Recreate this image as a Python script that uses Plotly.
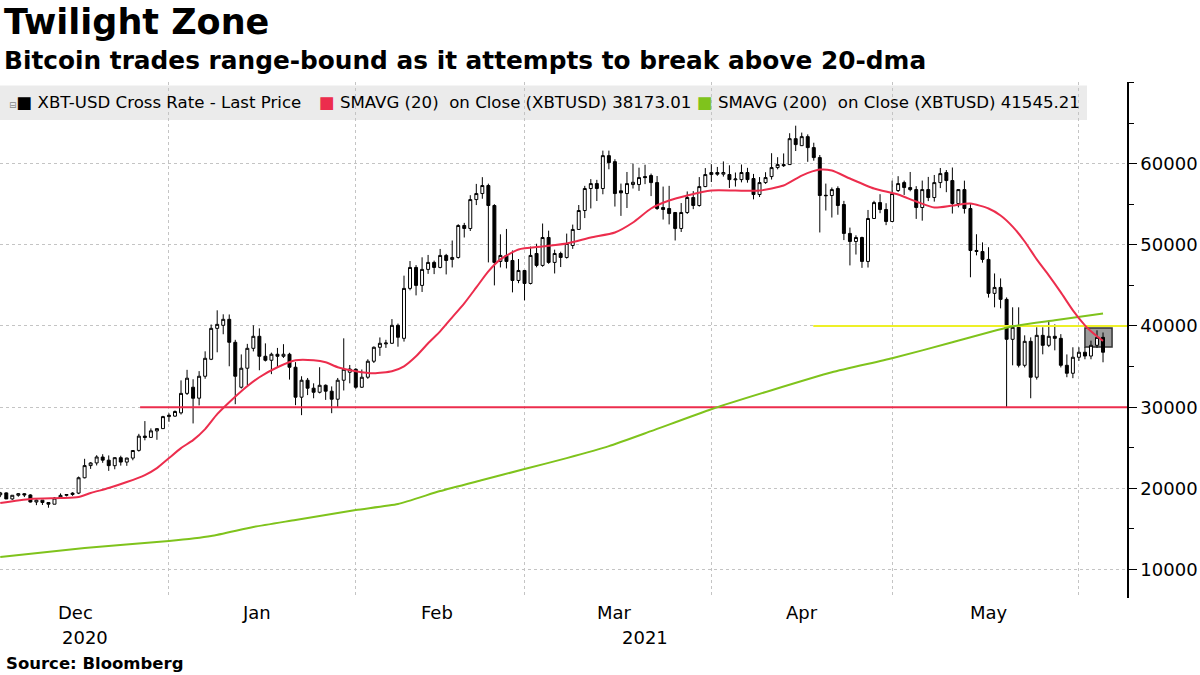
import pandas as pd
import plotly.graph_objects as go

# daily candles, 2020-12-03 .. 2021-06-04
dates = pd.date_range("2020-12-03", "2021-06-04", freq="D")

open_px = [
    # Dec (3..31)
    19205, 19446, 18699, 19155, 19343, 19192, 18321, 18553, 18263, 18051, 18807, 19144, 19246, 19418, 21308,
    22806, 23132, 23861, 23475, 22795, 23781, 23240, 23733, 24678, 26439, 26280, 27081, 27361, 28841,
    # Jan
    28900, 29300, 31700, 32460, 31110, 33810, 35900, 39710, 40080, 40820, 37990, 32460, 34800, 37250, 38730,
    36270, 35780, 36520, 36270, 36520, 34920, 31230, 33320, 32340, 31840, 32700, 31970, 30980, 33320, 34300, 34670,
    # Feb
    32460, 33690, 35660, 37380, 37800, 37870, 40080, 38480, 44630, 47210, 45000, 46970, 47830, 47210, 48690,
    48200, 48440, 52380, 52010, 55570, 56310, 57300, 54840, 47950, 48690, 48070, 45610, 46840,
    # Mar
    45240, 48930, 47460, 50900, 47830, 48930, 48440, 49910, 51890, 54220, 56930, 57540, 56930, 60980, 60240,
    56650, 56310, 57420, 57420, 58400, 58530, 57660, 54590, 54470, 53980, 52010, 53980, 55820, 54840, 57170, 58650,
    # Apr
    58900, 58700, 58650, 58000, 58030, 58900, 58160, 56190, 57660, 58400, 59510, 59880, 59880, 63070, 62210,
    63320, 61970, 60740, 56100, 56070, 56930, 54960, 51400, 50410, 50900, 47950, 53240, 55200, 54350, 52870,
    # May
    56680, 57660, 57050, 56800, 54590, 56800, 55820, 57660, 58890, 57910, 55080, 56800, 54470, 49300, 49180,
    48200, 44020, 44750, 43280, 38360, 39840, 35160, 38110, 33690, 38850, 37620, 38730, 38480, 35160, 34180, 36150,
    # Jun
    36770, 36300, 37620, 38600,
]
high_px = [
    19566, 19511, 19160, 19408, 19411, 19283, 18626, 18553, 18268, 18919, 19381, 19305, 19525, 21458, 23642,
    23238, 24085, 24209, 24059, 23811, 24024, 23768, 24711, 26718, 28288, 27389, 27370, 28937, 29244,
    29600, 33300, 34600, 33440, 34440, 36880, 40180, 41930, 41440, 41420, 38300, 36500, 37800, 40080, 39710,
    37860, 36720, 37300, 37760, 36700, 35550, 33810, 33600, 32940, 34920, 32800, 32560, 33600, 38480, 35200, 34800,
    34640, 35900, 37480, 38590, 38300, 40850, 40300, 46200, 48000, 47500, 48460, 48750, 48050, 49490, 48880,
    50530, 52530, 52700, 56110, 57500, 58330, 57530, 55000, 51290, 51950, 49300, 48250, 46900,
    49780, 50130, 52620, 51740, 49400, 49150, 51380, 52490, 54900, 57260, 58090, 58000, 61600, 61600, 60540,
    57540, 58970, 60000, 59500, 59860, 58770, 58470, 57170, 57260, 54000, 55140, 56570, 56610, 58340, 59450, 59930,
    59590, 60270, 59790, 58900, 59890, 59480, 58730, 58340, 58940, 61280, 60790, 61250, 63740, 64670, 63820,
    63600, 62570, 61060, 57540, 57060, 57200, 55410, 52120, 51170, 51000, 54290, 55420, 56230, 55120, 57900,
    58450, 57900, 58970, 57220, 57910, 58360, 58600, 59460, 59210, 59520, 56870, 57900, 55000, 51300, 50300,
    49700, 46470, 45860, 43520, 42300, 42300, 38850, 38600, 39840, 39840, 40700, 40200, 39000, 36500, 37380, 37380,
    37400, 38200, 39470, 39200,
]
low_px = [
    18925, 18697, 18590, 18976, 18931, 18269, 17935, 17957, 17619, 18046, 18734, 19012, 19079, 19298, 21234,
    22400, 22826, 23147, 22159, 22353, 22802, 22777, 23463, 24522, 25922, 26207, 25987, 27361, 28201,
    28800, 29100, 31500, 28000, 30220, 33500, 35800, 36760, 38980, 35040, 30370, 32300, 32700, 36870, 34550,
    35630, 34070, 34880, 36070, 33400, 30250, 29020, 31490, 31100, 31700, 30900, 29260, 30020, 32060, 32940, 32270,
    32380, 33490, 35440, 36320, 37300, 37800, 37450, 38080, 44400, 43770, 44190, 46420, 46390, 47100, 46350,
    47210, 48300, 50900, 51700, 54890, 55670, 47830, 45000, 47210, 47090, 44140, 45270, 43160,
    45120, 47230, 47300, 47660, 46470, 47260, 48300, 49500, 51870, 53290, 54480, 55390, 56220, 59300, 54710,
    53560, 54530, 56930, 56640, 57470, 56000, 54290, 53110, 52510, 50530, 51580, 53800, 54390, 54700, 57100, 57730,
    58500, 58400, 57000, 57170, 57690, 57650, 55600, 55880, 57500, 58040, 59290, 59590, 59870, 61550, 62200,
    60220, 60360, 51520, 54220, 53360, 53700, 50580, 47460, 48800, 47160, 47200, 53200, 53890, 52420, 52800,
    56500, 56140, 56590, 53190, 52970, 55380, 55320, 56980, 56480, 53850, 54610, 53850, 46000, 48700, 47800,
    43500, 42300, 42170, 30000, 35160, 34900, 34900, 31100, 33400, 36510, 37400, 37000, 34900, 33690, 33570, 35700,
    35900, 35900, 37300, 35530,
]
close_px = [
    19445, 18699, 19154, 19345, 19191, 18321, 18553, 18264, 18058, 18803, 19142, 19246, 19417, 21310, 22806,
    23132, 23869, 23477, 22803, 23783, 23241, 23735, 24665, 26437, 26273, 27084, 27362, 28841, 29002,
    29470, 31700, 33570, 31100, 33810, 36020, 39710, 40200, 40820, 37990, 33810, 34800, 37250, 38730, 36270,
    35780, 36520, 36270, 36520, 34920, 31230, 33320, 32340, 31840, 32700, 31970, 30980, 33320, 34670, 34700, 32460,
    33690, 35660, 37380, 37870, 37900, 40080, 38610, 44630, 47210, 45000, 46970, 47830, 47210, 48690, 48070,
    48440, 52380, 52010, 55570, 56310, 57300, 54840, 47830, 48690, 47950, 45610, 46840, 45240,
    48690, 47460, 50900, 47830, 48930, 48440, 50160, 51890, 54220, 56930, 57540, 56930, 60980, 60120, 56310,
    56400, 57540, 57700, 58280, 58280, 57660, 54470, 54350, 53850, 52010, 53980, 55820, 54840, 57170, 58650, 58900,
    58700, 58900, 58030, 58100, 58900, 58030, 56190, 57660, 58280, 59510, 59880, 59750, 63070, 62340, 63320,
    61970, 60740, 56070, 56050, 56800, 54840, 51400, 50410, 50900, 47950, 53240, 55200, 54350, 52870, 56310,
    57540, 57050, 56800, 54590, 56800, 55820, 57660, 58770, 57910, 55080, 56800, 54470, 49300, 49180, 48200,
    44020, 44750, 43280, 38360, 39840, 35160, 38110, 33690, 38850, 37620, 38730, 38480, 35160, 34180, 36150, 36770,
    36300, 37620, 38600, 36770,
]

# moving averages
sma20_dates = [
    "2020-12-03", "2020-12-08", "2020-12-13", "2020-12-16", "2020-12-18", "2020-12-21", "2020-12-24",
    "2020-12-27", "2020-12-29", "2020-12-31", "2021-01-02", "2021-01-04", "2021-01-06", "2021-01-08",
    "2021-01-10", "2021-01-12", "2021-01-15", "2021-01-18", "2021-01-21", "2021-01-24", "2021-01-26",
    "2021-01-28", "2021-01-31", "2021-02-03", "2021-02-06", "2021-02-08", "2021-02-10", "2021-02-12",
    "2021-02-14", "2021-02-16", "2021-02-18", "2021-02-20", "2021-02-22", "2021-02-24", "2021-02-27",
    "2021-03-03", "2021-03-07", "2021-03-11", "2021-03-15", "2021-03-18", "2021-03-21", "2021-03-24",
    "2021-03-27", "2021-03-31", "2021-04-04", "2021-04-08", "2021-04-12", "2021-04-15", "2021-04-18",
    "2021-04-20", "2021-04-23", "2021-04-27", "2021-05-01", "2021-05-04", "2021-05-07", "2021-05-10",
    "2021-05-13", "2021-05-16", "2021-05-18", "2021-05-20", "2021-05-22", "2021-05-24", "2021-05-26",
    "2021-05-28", "2021-05-30", "2021-06-01", "2021-06-02", "2021-06-03", "2021-06-04",
]
sma20 = [
    18200, 18690, 18810, 18930, 19430, 20040, 20780,
    21640, 22500, 23730, 24960, 25940, 27300, 29140,
    30610, 31970, 33690, 34920, 35780, 35780, 35530,
    34920, 34430, 34180, 34430, 35040, 36270, 37870,
    39340, 41070, 42790, 44750, 46720, 48200, 49430,
    49800, 50160, 50900, 51520, 52750, 54470, 55450,
    56070, 56680, 56680, 56680, 57300, 58520, 59260,
    59140, 58160, 56930, 56190, 55330, 54590, 54840,
    55080, 54470, 53610, 52240, 50410, 48200, 46230,
    44140, 41930, 40080, 39340, 38730, 38173.01,
]
sma200_dates = [
    "2020-12-03", "2020-12-17", "2020-12-31", "2021-01-07", "2021-01-14", "2021-01-21", "2021-01-31",
    "2021-02-07", "2021-02-14", "2021-02-21", "2021-02-28", "2021-03-07", "2021-03-14", "2021-03-21",
    "2021-03-31", "2021-04-10", "2021-04-20", "2021-04-30", "2021-05-10", "2021-05-20", "2021-05-27",
    "2021-06-04",
]
sma200 = [
    11560, 12660, 13520, 14140, 15250, 16110, 17340,
    18070, 19670, 21030, 22380, 23730, 25200, 27050,
    29750, 32090, 34300, 36020, 37990, 39960, 40700,
    41545.21,
]

support_level = 30000
support_start = "2020-12-26 05:00"
resist_level = 40000
resist_start = "2021-04-16 22:00"
x_end = "2021-06-07 23:30"

box_x = ["2021-06-01", "2021-06-05 12:00"]
box_y = [37400, 39750]

y_ticks = [10000, 20000, 30000, 40000, 50000, 60000]
month_ends = ["2020-11-30", "2020-12-31", "2021-01-31", "2021-02-28", "2021-03-31", "2021-04-30", "2021-05-31"]
month_labels = ["Dec", "Jan", "Feb", "Mar", "Apr", "May"]
month_label_pos = ["2020-12-15 12:00", "2021-01-14 12:00", "2021-02-13 12:00",
                   "2021-03-15", "2021-04-15", "2021-05-16"]
year_labels = ["2020", "2021"]
year_label_pos = ["2020-12-17", "2021-03-20"]

RED = "#ec2d4d"
GREEN = "#7fc31c"
YELLOW = "#eef028"
FONT = "DejaVu Sans"

fig = go.Figure()

fig.add_trace(go.Scatter(x=[support_start, x_end], y=[support_level] * 2, mode="lines",
                         line=dict(color=RED, width=2), hoverinfo="skip"))
fig.add_trace(go.Scatter(x=[resist_start, x_end], y=[resist_level] * 2, mode="lines",
                         line=dict(color=YELLOW, width=2), hoverinfo="skip"))
fig.add_trace(go.Scatter(x=sma200_dates, y=sma200, mode="lines",
                         line=dict(color=GREEN, width=2, shape="spline", smoothing=0.5)))
fig.add_trace(go.Candlestick(
    x=dates, open=open_px, high=high_px, low=low_px, close=close_px,
    increasing=dict(line=dict(color="black", width=1), fillcolor="white"),
    decreasing=dict(line=dict(color="black", width=1), fillcolor="black"),
    whiskerwidth=0,
))
fig.add_trace(go.Scatter(x=sma20_dates, y=sma20, mode="lines",
                         line=dict(color=RED, width=2, shape="spline", smoothing=0.6)))

# highlight box on the latest sessions
fig.add_shape(type="rect", xref="x", yref="y", x0=box_x[0], x1=box_x[1], y0=box_y[0], y1=box_y[1],
              fillcolor="#9c9c9c", line=dict(color="#333333", width=1.5), layer="between")

# legend band
fig.add_shape(type="rect", xref="paper", yref="paper", x0=0, x1=0.9645, y0=0.9264, y1=0.993,
              fillcolor="#ebebeb", line=dict(width=0), layer="below")

legend_items = [
    (0.006, "<span style='color:#888888;font-size:9px'>⊟</span><span style='color:black'>■</span> XBT-USD Cross Rate - Last Price"),
    (0.281, f"<span style='color:{RED}'>■</span> SMAVG (20)  on Close (XBTUSD) 38173.01"),
    (0.617, f"<span style='color:{GREEN}'>■</span> SMAVG (200)  on Close (XBTUSD) 41545.21"),
]
for xp, txt in legend_items:
    fig.add_annotation(x=xp, y=0.9597, xref="paper", yref="paper", text=txt, showarrow=False,
                       xanchor="left", yanchor="middle", font=dict(family=FONT, size=16.6, color="black"))

for lab, pos in zip(month_labels, month_label_pos):
    fig.add_annotation(x=pos, y=-0.029, xref="x", yref="paper", text=lab, showarrow=False,
                       xanchor="center", yanchor="middle", font=dict(family=FONT, size=18, color="black"))
for lab, pos in zip(year_labels, year_label_pos):
    fig.add_annotation(x=pos, y=-0.0756, xref="x", yref="paper", text=lab, showarrow=False,
                       xanchor="center", yanchor="middle", font=dict(family=FONT, size=18, color="black"))

fig.add_annotation(x=0, y=1.1163, xref="paper", yref="paper", text="<b>Twilight Zone</b>", showarrow=False,
                   xanchor="left", yanchor="middle", xshift=2, font=dict(family=FONT, size=35, color="black"))
fig.add_annotation(x=0, y=1.0426, xref="paper", yref="paper",
                   text="<b>Bitcoin trades range-bound as it attempts to break above 20-dma</b>", showarrow=False,
                   xanchor="left", yanchor="middle", xshift=2, font=dict(family=FONT, size=24.8, color="black"))
fig.add_annotation(x=0, y=-0.126, xref="paper", yref="paper", text="<b>Source: Bloomberg</b>", showarrow=False,
                   xanchor="left", yanchor="middle", xshift=4, font=dict(family=FONT, size=16.5, color="black"))

fig.update_layout(
    width=1200, height=675,
    margin=dict(l=0, r=73, t=82, b=77),
    paper_bgcolor="white", plot_bgcolor="white",
    showlegend=False,
    font=dict(family=FONT, color="black"),
    xaxis=dict(
        type="date", range=["2020-12-02 23:00", x_end],
        tickvals=month_ends, showticklabels=False, ticks="",
        showgrid=True, gridcolor="#c4c4c4", griddash="dot", gridwidth=1,
        zeroline=False, showline=False, rangeslider=dict(visible=False),
    ),
    yaxis=dict(
        side="right", range=[6500, 70050],
        tickvals=y_ticks, ticktext=[str(v) for v in y_ticks],
        ticks="outside", ticklen=8, tickcolor="black", tickwidth=1,
        tickfont=dict(family=FONT, size=18, color="black"),
        showline=True, linecolor="black", linewidth=1.5,
        showgrid=True, gridcolor="#c4c4c4", griddash="dot", gridwidth=1,
        zeroline=False,
        minor=dict(tickvals=[15000, 25000, 35000, 45000, 55000, 65000, 70000], ticks="outside",
                   ticklen=5, tickcolor="black", showgrid=False),
    ),
)

fig.write_html("out.html", config={"displayModeBar": False},
               post_script="document.body.style.margin='0';")
